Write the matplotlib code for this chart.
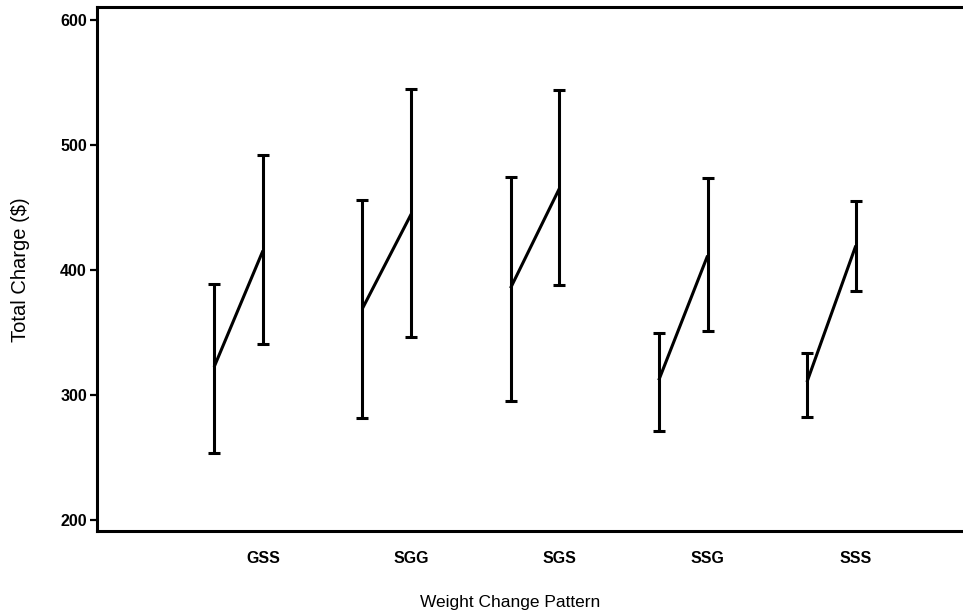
import matplotlib
matplotlib.use("Agg")
import matplotlib.pyplot as plt
import numpy as np

plt.rcParams["font.family"] = ["Liberation Sans", "DejaVu Sans"]

# weight change patterns
patterns = ["GSS", "SGG", "SGS", "SSG", "SSS"]

# first time point (left bar of each pair)
mean_a = [322.4, 369.0, 385.5, 311.8, 310.4]
low_a = [253.8, 281.7, 295.6, 271.3, 282.5]
high_a = [388.7, 456.0, 474.7, 349.6, 333.9]

# second time point (right bar of each pair)
mean_b = [415.6, 444.8, 465.3, 411.6, 419.6]
low_b = [340.5, 346.6, 388.4, 350.9, 383.6]
high_b = [492.0, 545.0, 543.8, 473.6, 455.0]

y_ticks = [200, 300, 400, 500, 600]

W, H = 963, 616
fig = plt.figure(figsize=(W / 100, H / 100), dpi=100)
ax = fig.add_axes([96.7 / W, 1 - 531.3 / H, 1 - 96.7 / W, (531.3 - 7.3) / H])

x = np.arange(len(patterns))
offset = 0.33
lw = 2.2

for i in range(len(patterns)):
    xa, xb = x[i] - offset, x[i]
    ax.errorbar([xa], [mean_a[i]],
                yerr=[[mean_a[i] - low_a[i]], [high_a[i] - mean_a[i]]],
                fmt="none", ecolor="black", elinewidth=lw, capsize=4.5, capthick=lw)
    ax.errorbar([xb], [mean_b[i]],
                yerr=[[mean_b[i] - low_b[i]], [high_b[i] - mean_b[i]]],
                fmt="none", ecolor="black", elinewidth=lw, capsize=4.5, capthick=lw)
    ax.plot([xa, xb], [mean_a[i], mean_b[i]], color="black", linewidth=lw,
            solid_capstyle="butt")

ax.set_xlim(-1.122, 4.723)
ax.set_ylim(191, 610.2)
ax.set_xticks(x)
ax.set_xticklabels(patterns, fontsize=11.5, fontweight="bold")
ax.set_yticks(y_ticks)
ax.set_yticklabels([str(v) for v in y_ticks], fontsize=11.5, fontweight="bold")
ax.tick_params(axis="x", length=0, pad=14)
ax.tick_params(axis="y", length=5, width=1.6, direction="out", pad=2)

for side in ["left", "bottom", "top"]:
    ax.spines[side].set_linewidth(2.2)
ax.spines["right"].set_visible(False)

fig.text(510 / W, 1 - 602 / H, "Weight Change Pattern", ha="center", va="center",
         fontsize=12.5)
fig.text(21 / W, 1 - 270 / H, "Total Charge ($)", ha="center", va="center",
         rotation=90, fontsize=14.5)

fig.savefig("out.png", dpi=100)
